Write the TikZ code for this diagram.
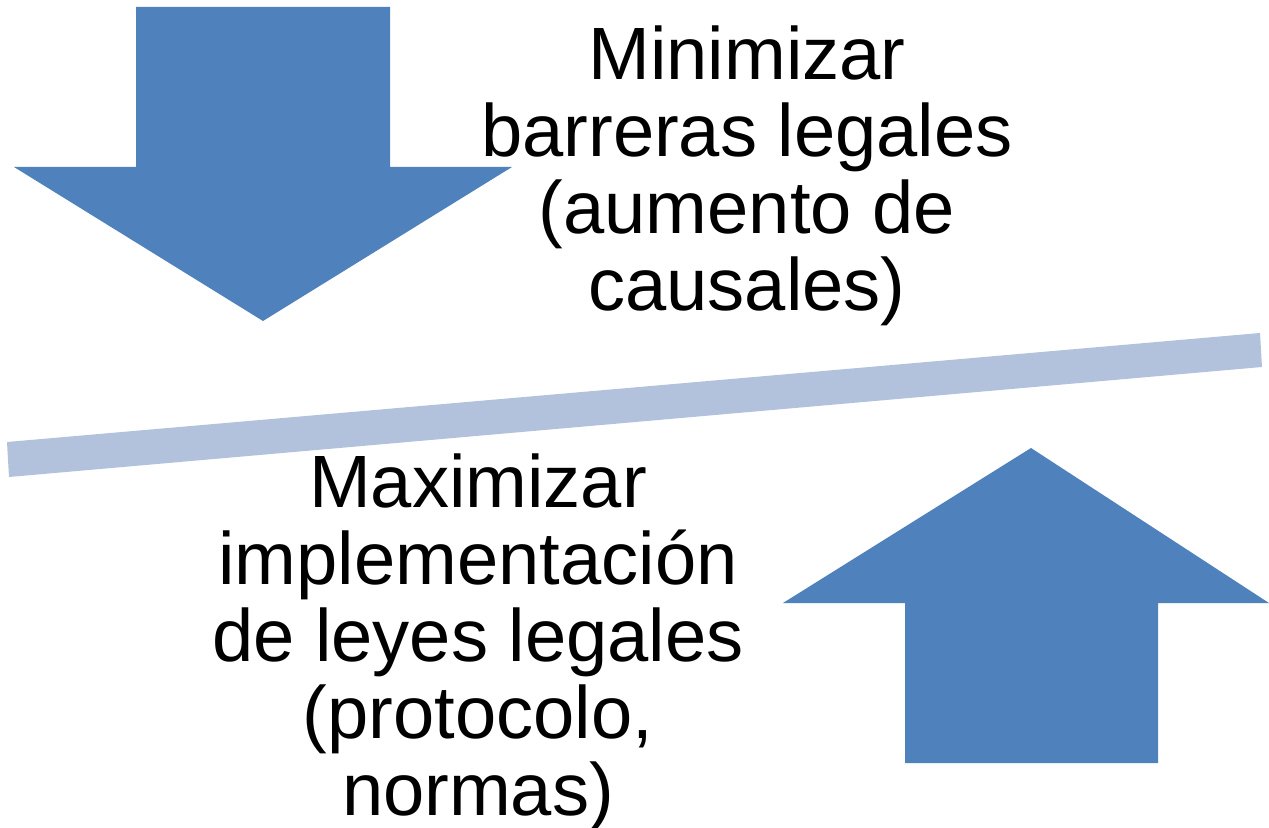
\documentclass[tikz,border=0pt]{standalone}
\usepackage{fontspec}
\setmainfont{Liberation Sans}
\definecolor{arrowblue}{RGB}{79,129,189}
\definecolor{barblue}{RGB}{178,193,220}
\tikzset{
  bigtext/.style={align=center,inner sep=0pt,anchor=base,
    font=\fontsize{42.2}{43.7}\selectfont},
}
\begin{document}
\begin{tikzpicture}[x=0.02cm,y=-0.02cm]
      \useasboundingbox (0,0) rectangle (1269,828);
      % arrow down
      \fill[arrowblue] (136,7) -- (390,7) -- (390,167) -- (512,167) -- (263,321)
        -- (14,167) -- (136,167) -- cycle;
      % balance bar
      \fill[barblue] (7,442) -- (1260,333) -- (1262,367) -- (9,477) -- cycle;
      % arrow up
      \fill[arrowblue] (905,763) -- (1158,763) -- (1158,603) -- (1269,603) -- (1031,448)
        -- (783,603) -- (905,603) -- cycle;
      \node[bigtext] (minim) at (747,310) {Minimizar\\barreras legales\\(aumento de\\causales)};
      \node[bigtext] (maxim) at (478,815) {Maximizar\\implementación\\de leyes legales\\(protocolo,\\normas)};
     \end{tikzpicture}
\end{document}
